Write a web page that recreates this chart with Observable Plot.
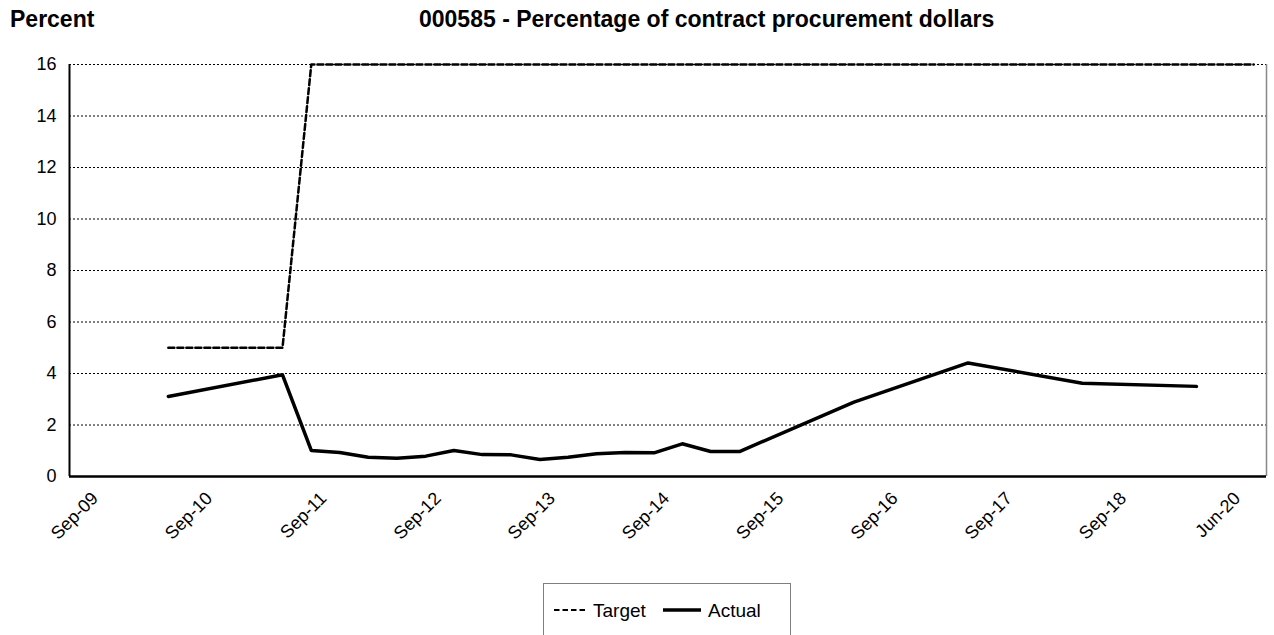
<!DOCTYPE html>
<html>
<head>
<meta charset="utf-8">
<script src="https://cdn.jsdelivr.net/npm/d3@7"></script>
<script src="https://cdn.jsdelivr.net/npm/@observablehq/plot@0.6"></script>
<style>
  body { margin: 0; background: #fff; font-family: Arial, "Liberation Sans", sans-serif; }
  #wrap { position: relative; width: 1274px; height: 635px; overflow: hidden; background: #fff; }
  #head { position: relative; height: 40px; }
  .ttl { position: absolute; top: 7.5px; font-size: 23px; line-height: 23px; font-weight: bold; color: #000; white-space: nowrap; }
  #chart svg { display: block; overflow: visible; }
  #legend { position: absolute; left: 543px; top: 583px; width: 248px; height: 80px; border: 1px solid #7f7f7f; box-sizing: border-box; background: #fff; }
</style>
</head>
<body>
<div id="wrap">
  <div id="head">
    <div class="ttl" style="left:10px">Percent</div>
    <div class="ttl" style="left:419px">000585 - Percentage of contract procurement dollars</div>
  </div>
  <div id="chart"></div>
  <div id="legend">
    <svg width="248" height="60" style="display:block">
      <line x1="10" x2="43" y1="26" y2="26" stroke="#000" stroke-width="2" stroke-dasharray="5.5,3"></line>
      <text x="49" y="32.7" font-family="Arial, 'Liberation Sans', sans-serif" font-size="19" fill="#000">Target</text>
      <line x1="119" x2="157" y1="26" y2="26" stroke="#000" stroke-width="3.5"></line>
      <text x="164" y="32.7" font-family="Arial, 'Liberation Sans', sans-serif" font-size="19" fill="#000">Actual</text>
    </svg>
  </div>
</div>
<script>
// ---- data ----
const actualDates = ["2010-09-30","2011-09-30","2011-12-31","2012-03-31","2012-06-30","2012-09-30",
  "2012-12-31","2013-03-31","2013-06-30","2013-09-30","2013-12-31","2014-03-31","2014-06-30",
  "2014-09-30","2014-12-31","2015-03-31","2015-06-30","2015-09-30","2016-09-30","2017-09-30",
  "2018-09-30","2019-09-30"];
const actualValues = [3.11,3.95,1.01,0.93,0.75,0.71,0.79,1.01,0.85,0.84,0.66,0.75,0.88,0.93,0.92,1.27,
  0.97,0.97,2.89,4.41,3.62,3.50];
const targetDates = [...actualDates, "2020-03-31"];
const targetValues = [5,5,16,16,16,16,16,16,16,16,16,16,16,16,16,16,16,16,16,16,16,16,16];
const tickDates = ["2009-09-30","2010-09-30","2011-09-30","2012-09-30","2013-09-30","2014-09-30",
  "2015-09-30","2016-09-30","2017-09-30","2018-09-30","2019-09-30"];
const tickLabels = ["Sep-09","Sep-10","Sep-11","Sep-12","Sep-13","Sep-14","Sep-15","Sep-16","Sep-17","Sep-18","Jun-20"];
const yTicks = [0,2,4,6,8,10,12,14,16];
const xDomain = ["2009-11-18","2020-05-11"];

// ---- build ----
const actual = actualDates.map((d,i) => ({date: new Date(d), value: actualValues[i]}));
const target = targetDates.map((d,i) => ({date: new Date(d), value: targetValues[i]}));
const ticks = tickDates.map((d,i) => ({date: new Date(d), label: tickLabels[i]}));
const dom = xDomain.map(d => new Date(d));

const chart = Plot.plot({
  width: 1274,
  height: 510,
  marginTop: 24,
  marginLeft: 69,
  marginRight: 8,
  marginBottom: 74,
  style: {fontFamily: "Arial, 'Liberation Sans', sans-serif", fontSize: "18px", color: "#000", background: "#fff", overflow: "visible"},
  x: {type: "utc", domain: dom, axis: null},
  y: {domain: [0, 16], axis: null},
  marks: [
    Plot.ruleY(yTicks.filter(v => v > 0), {stroke: "#000", strokeWidth: 1, strokeDasharray: "2,2"}),
    Plot.ruleX([dom[1]], {stroke: "#888", strokeWidth: 1.5}),
    Plot.ruleX([dom[0]], {stroke: "#000", strokeWidth: 2}),
    Plot.ruleY([0], {stroke: "#000", strokeWidth: 2.5}),
    Plot.axisY({ticks: yTicks, tickSize: 0, tickPadding: 13, fontSize: 18, label: null, fill: "#000"}),
    Plot.text(ticks, {x: "date", text: "label", frameAnchor: "bottom", dy: 23, dx: 45, rotate: -45,
      textAnchor: "end", fontSize: 18, fill: "#000"}),
    Plot.line(target, {x: "date", y: "value", stroke: "#000", strokeWidth: 2.5, strokeDasharray: "6,3"}),
    Plot.line(actual, {x: "date", y: "value", stroke: "#000", strokeWidth: 3.5, strokeLinejoin: "round"})
  ]
});
document.getElementById("chart").appendChild(chart);
</script>
</body>
</html>
